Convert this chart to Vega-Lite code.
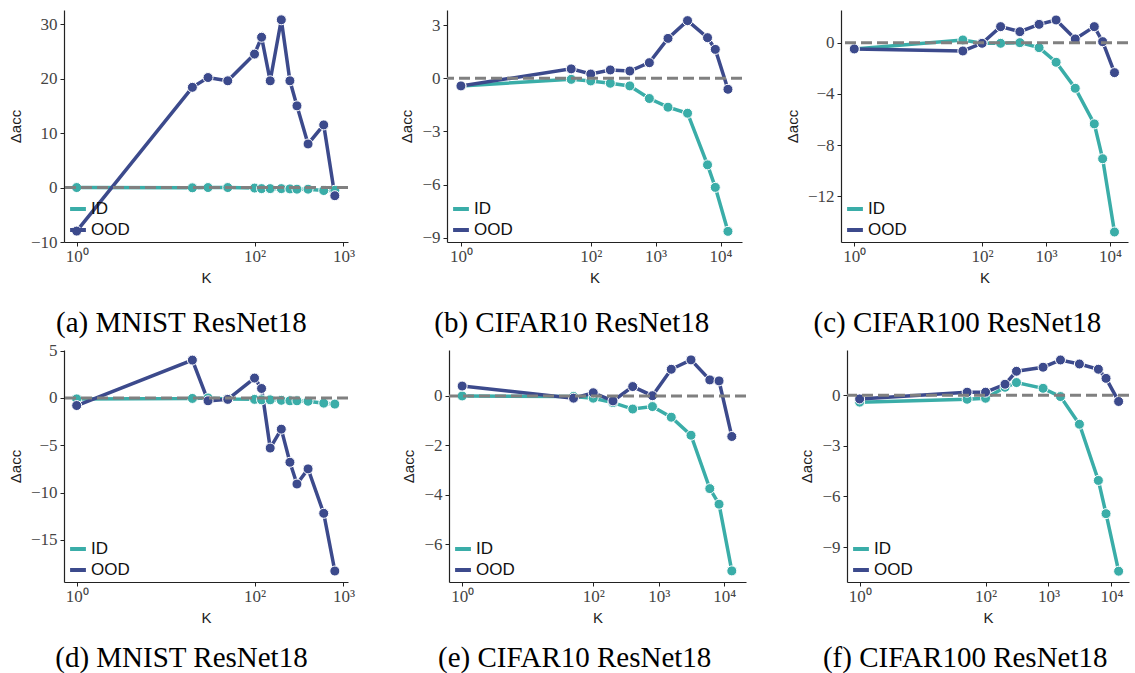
{
  "$schema": "https://vega.github.io/schema/vega-lite/v6.json",
  "background": "white",
  "padding": {"left": 8, "top": 10, "right": 0, "bottom": 0},
  "spacing": 3,
  "resolve": {"scale": {"color": "independent", "fill": "independent"}, "legend": {"color": "independent", "fill": "independent"}},
  "datasets": {
    "a": [
      {"K": 1, "s": "ID", "v": 0}, {"K": 20, "s": "ID", "v": -0.05}, {"K": 30, "s": "ID", "v": 0}, {"K": 50, "s": "ID", "v": 0},
      {"K": 100, "s": "ID", "v": -0.1}, {"K": 120, "s": "ID", "v": -0.2}, {"K": 150, "s": "ID", "v": -0.2}, {"K": 200, "s": "ID", "v": -0.2},
      {"K": 250, "s": "ID", "v": -0.25}, {"K": 300, "s": "ID", "v": -0.3}, {"K": 400, "s": "ID", "v": -0.3}, {"K": 600, "s": "ID", "v": -0.55}, {"K": 800, "s": "ID", "v": -0.5},
      {"K": 1, "s": "OOD", "v": -8.0}, {"K": 20, "s": "OOD", "v": 18.4}, {"K": 30, "s": "OOD", "v": 20.2}, {"K": 50, "s": "OOD", "v": 19.6},
      {"K": 100, "s": "OOD", "v": 24.5}, {"K": 120, "s": "OOD", "v": 27.6}, {"K": 150, "s": "OOD", "v": 19.6}, {"K": 200, "s": "OOD", "v": 30.8},
      {"K": 250, "s": "OOD", "v": 19.6}, {"K": 300, "s": "OOD", "v": 15.0}, {"K": 400, "s": "OOD", "v": 8.0}, {"K": 600, "s": "OOD", "v": 11.5}, {"K": 800, "s": "OOD", "v": -1.5}
    ],
    "b": [
      {"K": 1, "s": "ID", "v": -0.43}, {"K": 50, "s": "ID", "v": -0.06}, {"K": 100, "s": "ID", "v": -0.15}, {"K": 200, "s": "ID", "v": -0.28},
      {"K": 400, "s": "ID", "v": -0.43}, {"K": 800, "s": "ID", "v": -1.14}, {"K": 1550, "s": "ID", "v": -1.63}, {"K": 3100, "s": "ID", "v": -1.97},
      {"K": 6300, "s": "ID", "v": -4.88}, {"K": 8300, "s": "ID", "v": -6.15}, {"K": 13000, "s": "ID", "v": -8.63},
      {"K": 1, "s": "OOD", "v": -0.43}, {"K": 50, "s": "OOD", "v": 0.53}, {"K": 100, "s": "OOD", "v": 0.24}, {"K": 200, "s": "OOD", "v": 0.47},
      {"K": 400, "s": "OOD", "v": 0.41}, {"K": 800, "s": "OOD", "v": 0.88}, {"K": 1550, "s": "OOD", "v": 2.25}, {"K": 3100, "s": "OOD", "v": 3.25},
      {"K": 6300, "s": "OOD", "v": 2.29}, {"K": 8300, "s": "OOD", "v": 1.63}, {"K": 13000, "s": "OOD", "v": -0.62}
    ],
    "c": [
      {"K": 1, "s": "ID", "v": -0.49}, {"K": 50, "s": "ID", "v": 0.21}, {"K": 100, "s": "ID", "v": -0.05}, {"K": 195, "s": "ID", "v": -0.05},
      {"K": 390, "s": "ID", "v": 0.0}, {"K": 780, "s": "ID", "v": -0.39}, {"K": 1440, "s": "ID", "v": -1.53}, {"K": 2870, "s": "ID", "v": -3.56},
      {"K": 5700, "s": "ID", "v": -6.34}, {"K": 7700, "s": "ID", "v": -9.06}, {"K": 11800, "s": "ID", "v": -14.78},
      {"K": 1, "s": "OOD", "v": -0.49}, {"K": 50, "s": "OOD", "v": -0.65}, {"K": 100, "s": "OOD", "v": -0.05}, {"K": 195, "s": "OOD", "v": 1.25},
      {"K": 390, "s": "OOD", "v": 0.86}, {"K": 780, "s": "OOD", "v": 1.43}, {"K": 1440, "s": "OOD", "v": 1.77}, {"K": 2870, "s": "OOD", "v": 0.29},
      {"K": 5700, "s": "OOD", "v": 1.25}, {"K": 7700, "s": "OOD", "v": 0.08}, {"K": 11800, "s": "OOD", "v": -2.34}
    ],
    "d": [
      {"K": 1, "s": "ID", "v": -0.1}, {"K": 20, "s": "ID", "v": -0.05}, {"K": 30, "s": "ID", "v": 0}, {"K": 50, "s": "ID", "v": -0.1},
      {"K": 100, "s": "ID", "v": -0.15}, {"K": 120, "s": "ID", "v": -0.2}, {"K": 150, "s": "ID", "v": -0.2}, {"K": 200, "s": "ID", "v": -0.25},
      {"K": 250, "s": "ID", "v": -0.3}, {"K": 300, "s": "ID", "v": -0.3}, {"K": 400, "s": "ID", "v": -0.35}, {"K": 600, "s": "ID", "v": -0.55}, {"K": 800, "s": "ID", "v": -0.65},
      {"K": 1, "s": "OOD", "v": -0.8}, {"K": 20, "s": "OOD", "v": 4.0}, {"K": 30, "s": "OOD", "v": -0.3}, {"K": 50, "s": "OOD", "v": -0.15},
      {"K": 100, "s": "OOD", "v": 2.1}, {"K": 120, "s": "OOD", "v": 1.0}, {"K": 150, "s": "OOD", "v": -5.3}, {"K": 200, "s": "OOD", "v": -3.3},
      {"K": 250, "s": "OOD", "v": -6.8}, {"K": 300, "s": "OOD", "v": -9.1}, {"K": 400, "s": "OOD", "v": -7.5}, {"K": 600, "s": "OOD", "v": -12.2}, {"K": 800, "s": "OOD", "v": -18.3}
    ],
    "e": [
      {"K": 1, "s": "ID", "v": 0}, {"K": 50, "s": "ID", "v": -0.02}, {"K": 100, "s": "ID", "v": -0.09}, {"K": 200, "s": "ID", "v": -0.27},
      {"K": 400, "s": "ID", "v": -0.53}, {"K": 800, "s": "ID", "v": -0.43}, {"K": 1550, "s": "ID", "v": -0.86}, {"K": 3100, "s": "ID", "v": -1.59},
      {"K": 6000, "s": "ID", "v": -3.75}, {"K": 8300, "s": "ID", "v": -4.38}, {"K": 13000, "s": "ID", "v": -7.08},
      {"K": 1, "s": "OOD", "v": 0.4}, {"K": 50, "s": "OOD", "v": -0.09}, {"K": 100, "s": "OOD", "v": 0.13}, {"K": 200, "s": "OOD", "v": -0.2},
      {"K": 400, "s": "OOD", "v": 0.38}, {"K": 800, "s": "OOD", "v": 0.01}, {"K": 1550, "s": "OOD", "v": 1.08}, {"K": 3100, "s": "OOD", "v": 1.46},
      {"K": 6000, "s": "OOD", "v": 0.65}, {"K": 8300, "s": "OOD", "v": 0.61}, {"K": 13000, "s": "OOD", "v": -1.64}
    ],
    "f": [
      {"K": 1, "s": "ID", "v": -0.41}, {"K": 51, "s": "ID", "v": -0.24}, {"K": 100, "s": "ID", "v": -0.18}, {"K": 204, "s": "ID", "v": 0.47},
      {"K": 310, "s": "ID", "v": 0.75}, {"K": 820, "s": "ID", "v": 0.41}, {"K": 1550, "s": "ID", "v": -0.08}, {"K": 3100, "s": "ID", "v": -1.72},
      {"K": 6200, "s": "ID", "v": -5.05}, {"K": 8200, "s": "ID", "v": -7.02}, {"K": 13000, "s": "ID", "v": -10.43},
      {"K": 1, "s": "OOD", "v": -0.22}, {"K": 51, "s": "OOD", "v": 0.18}, {"K": 100, "s": "OOD", "v": 0.18}, {"K": 204, "s": "OOD", "v": 0.65},
      {"K": 310, "s": "OOD", "v": 1.42}, {"K": 820, "s": "OOD", "v": 1.66}, {"K": 1550, "s": "OOD", "v": 2.09}, {"K": 3100, "s": "OOD", "v": 1.85},
      {"K": 6200, "s": "OOD", "v": 1.54}, {"K": 8200, "s": "OOD", "v": 1.0}, {"K": 13000, "s": "OOD", "v": -0.37}
    ],
    "zero": [{"v": 0}]
  },
  "vconcat": [
    {
      "bounds": "flush",
      "spacing": 99,
      "resolve": {"scale": {"color": "independent", "fill": "independent"}, "legend": {"color": "independent", "fill": "independent"}},
      "hconcat": [
        {
          "width": 284, "height": 232,
          "title": {"text": "(a) MNIST ResNet18"},
          "encoding": {
            "x": {"field": "K", "type": "quantitative", "title": "K", "scale": {"type": "log", "domain": [0.72, 1125], "nice": false}, "axis": {"values": [1, 100, 1000], "labelExpr": "datum.value == 1 ? '10⁰' : datum.value == 100 ? '10²' : datum.value == 1000 ? '10³' : '10⁴'"}},
            "y": {"field": "v", "type": "quantitative", "title": "Δacc", "scale": {"domain": [-10, 32.6], "nice": false, "zero": false}, "axis": {"values": [-10, 0, 10, 20, 30]}}
          },
          "layer": [
            {"data": {"name": "a"}, "mark": {"type": "line", "strokeWidth": 3.5}, "encoding": {"color": {"field": "s", "type": "nominal", "scale": {"domain": ["ID", "OOD"], "range": ["#3AADA8", "#3C4A8C"]}, "legend": {"title": null}}}},
            {"data": {"name": "a"}, "mark": {"type": "circle", "size": 100, "stroke": "white", "strokeWidth": 1, "opacity": 1}, "encoding": {"fill": {"field": "s", "type": "nominal", "scale": {"domain": ["ID", "OOD"], "range": ["#3AADA8", "#3C4A8C"]}, "legend": null}}},
            {"data": {"name": "zero"}, "mark": {"type": "rule", "color": "#808080", "strokeWidth": 3, "strokeDash": [11, 5]}, "encoding": {"x": null}}
          ]
        },
        {
          "width": 295, "height": 232,
          "title": {"text": "(b) CIFAR10 ResNet18"},
          "encoding": {
            "x": {"field": "K", "type": "quantitative", "title": "K", "scale": {"type": "log", "domain": [0.61, 21400], "nice": false}, "axis": {"values": [1, 100, 1000, 10000], "labelExpr": "datum.value == 1 ? '10⁰' : datum.value == 100 ? '10²' : datum.value == 1000 ? '10³' : '10⁴'"}},
            "y": {"field": "v", "type": "quantitative", "title": "Δacc", "scale": {"domain": [-9.23, 3.85], "nice": false, "zero": false}, "axis": {"values": [-9, -6, -3, 0, 3]}}
          },
          "layer": [
            {"data": {"name": "b"}, "mark": {"type": "line", "strokeWidth": 3.5}, "encoding": {"color": {"field": "s", "type": "nominal", "scale": {"domain": ["ID", "OOD"], "range": ["#3AADA8", "#3C4A8C"]}, "legend": {"title": null}}}},
            {"data": {"name": "b"}, "mark": {"type": "circle", "size": 100, "stroke": "white", "strokeWidth": 1, "opacity": 1}, "encoding": {"fill": {"field": "s", "type": "nominal", "scale": {"domain": ["ID", "OOD"], "range": ["#3AADA8", "#3C4A8C"]}, "legend": null}}},
            {"data": {"name": "zero"}, "mark": {"type": "rule", "color": "#808080", "strokeWidth": 3, "strokeDash": [11, 5]}, "encoding": {"x": null}}
          ]
        },
        {
          "width": 287, "height": 232,
          "title": {"text": "(c) CIFAR100 ResNet18"},
          "encoding": {
            "x": {"field": "K", "type": "quantitative", "title": "K", "scale": {"type": "log", "domain": [0.62, 19200], "nice": false}, "axis": {"values": [1, 100, 1000, 10000], "labelExpr": "datum.value == 1 ? '10⁰' : datum.value == 100 ? '10²' : datum.value == 1000 ? '10³' : '10⁴'"}},
            "y": {"field": "v", "type": "quantitative", "title": "Δacc", "scale": {"domain": [-15.56, 2.55], "nice": false, "zero": false}, "axis": {"values": [-12, -8, -4, 0]}}
          },
          "layer": [
            {"data": {"name": "c"}, "mark": {"type": "line", "strokeWidth": 3.5}, "encoding": {"color": {"field": "s", "type": "nominal", "scale": {"domain": ["ID", "OOD"], "range": ["#3AADA8", "#3C4A8C"]}, "legend": {"title": null}}}},
            {"data": {"name": "c"}, "mark": {"type": "circle", "size": 100, "stroke": "white", "strokeWidth": 1, "opacity": 1}, "encoding": {"fill": {"field": "s", "type": "nominal", "scale": {"domain": ["ID", "OOD"], "range": ["#3AADA8", "#3C4A8C"]}, "legend": null}}},
            {"data": {"name": "zero"}, "mark": {"type": "rule", "color": "#808080", "strokeWidth": 3, "strokeDash": [11, 5]}, "encoding": {"x": null}}
          ]
        }
      ]
    },
    {
      "bounds": "flush",
      "spacing": 101,
      "resolve": {"scale": {"color": "independent", "fill": "independent"}, "legend": {"color": "independent", "fill": "independent"}},
      "hconcat": [
        {
          "width": 284, "height": 232,
          "title": {"text": "(d) MNIST ResNet18", "offset": 19},
          "encoding": {
            "x": {"field": "K", "type": "quantitative", "title": "K", "scale": {"type": "log", "domain": [0.72, 1125], "nice": false}, "axis": {"values": [1, 100, 1000], "labelExpr": "datum.value == 1 ? '10⁰' : datum.value == 100 ? '10²' : datum.value == 1000 ? '10³' : '10⁴'"}},
            "y": {"field": "v", "type": "quantitative", "title": "Δacc", "scale": {"domain": [-19.46, 5.07], "nice": false, "zero": false}, "axis": {"values": [-15, -10, -5, 0, 5]}}
          },
          "layer": [
            {"data": {"name": "d"}, "mark": {"type": "line", "strokeWidth": 3.5}, "encoding": {"color": {"field": "s", "type": "nominal", "scale": {"domain": ["ID", "OOD"], "range": ["#3AADA8", "#3C4A8C"]}, "legend": {"title": null}}}},
            {"data": {"name": "d"}, "mark": {"type": "circle", "size": 100, "stroke": "white", "strokeWidth": 1, "opacity": 1}, "encoding": {"fill": {"field": "s", "type": "nominal", "scale": {"domain": ["ID", "OOD"], "range": ["#3AADA8", "#3C4A8C"]}, "legend": null}}},
            {"data": {"name": "zero"}, "mark": {"type": "rule", "color": "#808080", "strokeWidth": 3, "strokeDash": [11, 5]}, "encoding": {"x": null}}
          ]
        },
        {
          "width": 297, "height": 232,
          "title": {"text": "(e) CIFAR10 ResNet18", "offset": 19},
          "encoding": {
            "x": {"field": "K", "type": "quantitative", "title": "K", "scale": {"type": "log", "domain": [0.63, 21400], "nice": false}, "axis": {"values": [1, 100, 1000, 10000], "labelExpr": "datum.value == 1 ? '10⁰' : datum.value == 100 ? '10²' : datum.value == 1000 ? '10³' : '10⁴'"}},
            "y": {"field": "v", "type": "quantitative", "title": "Δacc", "scale": {"domain": [-7.53, 1.86], "nice": false, "zero": false}, "axis": {"values": [-6, -4, -2, 0]}}
          },
          "layer": [
            {"data": {"name": "e"}, "mark": {"type": "line", "strokeWidth": 3.5}, "encoding": {"color": {"field": "s", "type": "nominal", "scale": {"domain": ["ID", "OOD"], "range": ["#3AADA8", "#3C4A8C"]}, "legend": {"title": null}}}},
            {"data": {"name": "e"}, "mark": {"type": "circle", "size": 100, "stroke": "white", "strokeWidth": 1, "opacity": 1}, "encoding": {"fill": {"field": "s", "type": "nominal", "scale": {"domain": ["ID", "OOD"], "range": ["#3AADA8", "#3C4A8C"]}, "legend": null}}},
            {"data": {"name": "zero"}, "mark": {"type": "rule", "color": "#808080", "strokeWidth": 3, "strokeDash": [11, 5]}, "encoding": {"x": null}}
          ]
        },
        {
          "width": 282, "height": 232,
          "title": {"text": "(f) CIFAR100 ResNet18", "offset": 19},
          "encoding": {
            "x": {"field": "K", "type": "quantitative", "title": "K", "scale": {"type": "log", "domain": [0.63, 19000], "nice": false}, "axis": {"values": [1, 100, 1000, 10000], "labelExpr": "datum.value == 1 ? '10⁰' : datum.value == 100 ? '10²' : datum.value == 1000 ? '10³' : '10⁴'"}},
            "y": {"field": "v", "type": "quantitative", "title": "Δacc", "scale": {"domain": [-11.07, 2.68], "nice": false, "zero": false}, "axis": {"values": [-9, -6, -3, 0]}}
          },
          "layer": [
            {"data": {"name": "f"}, "mark": {"type": "line", "strokeWidth": 3.5}, "encoding": {"color": {"field": "s", "type": "nominal", "scale": {"domain": ["ID", "OOD"], "range": ["#3AADA8", "#3C4A8C"]}, "legend": {"title": null}}}},
            {"data": {"name": "f"}, "mark": {"type": "circle", "size": 100, "stroke": "white", "strokeWidth": 1, "opacity": 1}, "encoding": {"fill": {"field": "s", "type": "nominal", "scale": {"domain": ["ID", "OOD"], "range": ["#3AADA8", "#3C4A8C"]}, "legend": null}}},
            {"data": {"name": "zero"}, "mark": {"type": "rule", "color": "#808080", "strokeWidth": 3, "strokeDash": [11, 5]}, "encoding": {"x": null}}
          ]
        }
      ]
    }
  ],
  "config": {
    "view": {"stroke": null},
    "axis": {"grid": false, "domainColor": "#222", "domainWidth": 1.2, "tickColor": "#222", "tickSize": 4, "labelFont": "Liberation Serif", "labelFontSize": 17, "labelColor": "#444", "titleFont": "Liberation Sans", "titleFontSize": 15, "titleFontWeight": "normal", "titleColor": "#222"},
    "axisY": {"titlePadding": 7, "labelPadding": 3},
    "axisX": {"labelPadding": 2, "titlePadding": 6, "labelFlush": false},
    "legend": {"orient": "bottom-left", "offset": 4, "symbolType": "stroke", "symbolStrokeWidth": 4, "symbolSize": 250, "labelFont": "Liberation Sans", "labelFontSize": 17, "labelColor": "#111", "rowPadding": 3, "labelOffset": 3, "padding": 0},
    "title": {"font": "Liberation Serif", "fontSize": 29, "fontWeight": "normal", "color": "#000", "orient": "bottom", "offset": 24, "anchor": "middle", "frame": "bounds"}
  }
}
